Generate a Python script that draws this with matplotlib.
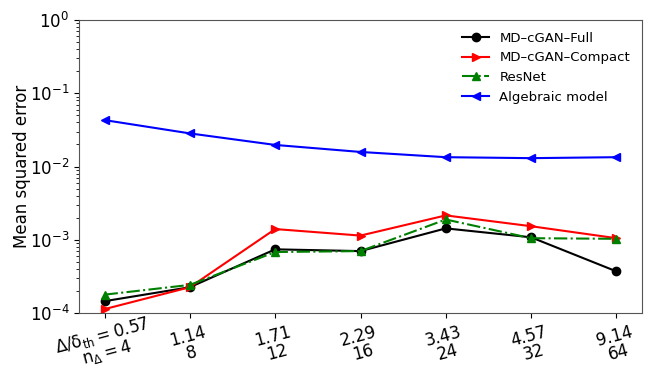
import matplotlib
matplotlib.use("Agg")
import matplotlib.pyplot as plt
import matplotlib.transforms as mtransforms
import numpy as np

plt.rcParams['mathtext.default'] = 'regular'

# Grid resolution cases
ratio = ["0.57", "1.14", "1.71", "2.29", "3.43", "4.57", "9.14"]
n_delta = ["4", "8", "12", "16", "24", "32", "64"]

# Mean squared error per model
mse_full = [1.45e-4, 2.25e-4, 7.4e-4, 7.0e-4, 1.43e-3, 1.08e-3, 3.7e-4]
mse_compact = [1.13e-4, 2.25e-4, 1.40e-3, 1.14e-3, 2.15e-3, 1.53e-3, 1.05e-3]
mse_resnet = [1.78e-4, 2.42e-4, 6.8e-4, 7.0e-4, 1.89e-3, 1.05e-3, 1.03e-3]
mse_algebraic = [4.3e-2, 2.83e-2, 1.97e-2, 1.58e-2, 1.34e-2, 1.30e-2, 1.34e-2]

tick_labels = [r"$\Delta/\delta_{th}=%s$" "\n" r"$n_\Delta=%s$" % (ratio[0], n_delta[0])]
tick_labels += ["%s\n%s" % (r, n) for r, n in zip(ratio[1:], n_delta[1:])]

x = np.arange(len(ratio))

fig = plt.figure(figsize=(6.46, 3.75), dpi=100)
ax = fig.add_axes([79 / 646, 1 - 313 / 375, (642 - 79) / 646, (313 - 20) / 375])

ax.plot(x, mse_full, color='black', marker='o', ms=6, lw=1.5, label='MD–cGAN–Full')
ax.plot(x, mse_compact, color='red', marker='>', ms=6, lw=1.5, label='MD–cGAN–Compact')
ax.plot(x, mse_resnet, color='green', marker='^', ms=6, lw=1.5, ls='-.', label='ResNet')
ax.plot(x, mse_algebraic, color='blue', marker='<', ms=6, lw=1.5, label='Algebraic model')

ax.set_yscale('log')
ax.set_ylim(1e-4, 1e0)
ax.set_xticks(x)
labels = ax.set_xticklabels(tick_labels, rotation=15, ha='center', multialignment='center',
                            fontsize=12, linespacing=0.95)
# lift the taller two-line math label so both lines stay on the canvas
first = labels[0]
first.set_linespacing(0.85)
first.set_transform(first.get_transform()
                    + mtransforms.ScaledTranslation(0, 9 / 100, fig.dpi_scale_trans))

ax.tick_params(axis='y', labelsize=12)
ax.set_ylabel('Mean squared error', fontsize=12, labelpad=-1)

for s in ax.spines.values():
    s.set_color('#555555')

ax.legend(loc='upper right', frameon=False, fontsize=9.5)

fig.savefig('out.png', dpi=100)
